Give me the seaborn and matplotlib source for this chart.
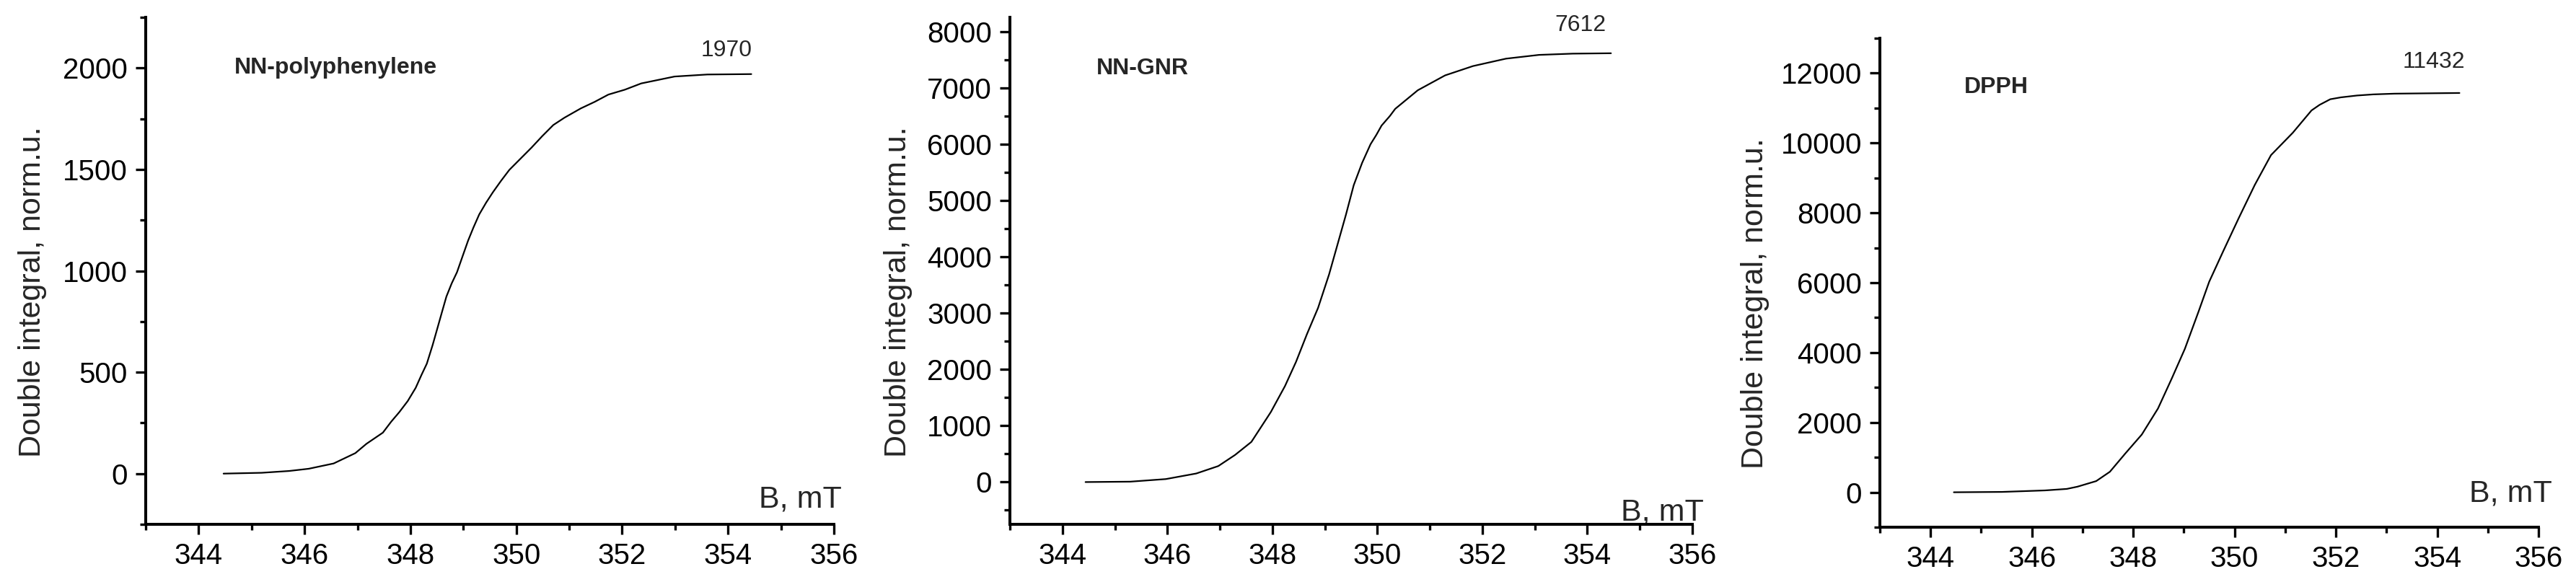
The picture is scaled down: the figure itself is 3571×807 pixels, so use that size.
import matplotlib
matplotlib.use("Agg")
import matplotlib.pyplot as plt
from matplotlib.ticker import MultipleLocator
import seaborn as sns
import pandas as pd

# ---- data ----
b_poly = [344.47, 345.19, 345.71, 346.08, 346.55, 346.96, 347.17, 347.48, 347.64, 347.79,
          347.95, 348.10, 348.21, 348.31, 348.42, 348.52, 348.60, 348.68, 348.78, 348.88,
          348.99, 349.09, 349.19, 349.30, 349.43, 349.56, 349.71, 349.87, 350.08, 350.29,
          350.49, 350.70, 350.91, 351.22, 351.48, 351.74, 352.05, 352.36, 352.99, 353.61,
          354.44]
v_poly = [0, 4, 13, 24, 50, 101, 147, 202, 257, 303,
          358, 423, 487, 542, 634, 726, 800, 873, 938, 993,
          1075, 1149, 1213, 1278, 1336, 1388, 1443, 1498, 1553, 1608,
          1664, 1719, 1755, 1801, 1833, 1869, 1893, 1924, 1958, 1968,
          1970]

b_gnr = [344.44, 345.29, 345.97, 346.55, 346.97, 347.29, 347.60, 347.97, 348.24, 348.45,
         348.66, 348.87, 349.08, 349.24, 349.40, 349.55, 349.71, 349.87, 349.98, 350.08,
         350.24, 350.34, 350.77, 351.29, 351.82, 352.45, 353.08, 353.72, 354.45]
v_gnr = [0, 7, 53, 152, 284, 482, 713, 1242, 1704, 2133,
         2629, 3091, 3686, 4214, 4742, 5271, 5667, 5997, 6162, 6328,
         6500, 6625, 6955, 7219, 7384, 7516, 7583, 7605, 7612]

b_dpph = [344.46, 345.41, 346.26, 346.69, 346.90, 347.27, 347.54, 347.85, 348.17, 348.49,
          348.76, 349.02, 349.29, 349.50, 349.77, 350.08, 350.40, 350.72, 351.15, 351.52,
          351.68, 351.89, 352.10, 352.42, 352.74, 353.16, 354.44]
v_dpph = [0, 10, 53, 96, 160, 320, 587, 1120, 1653, 2400,
          3253, 4107, 5173, 6027, 6880, 7840, 8800, 9653, 10293, 10933,
          11093, 11253, 11307, 11360, 11392, 11413, 11432]

names = ["NN-polyphenylene", "NN-GNR", "DPPH"]
final_labels = ["1970", "7612", "11432"]
x_label = "B, mT"
y_label = "Double integral, norm.u."

sns.set_style("ticks")
plt.rcParams['font.family'] = ['Liberation Sans', 'DejaVu Sans']

fig = plt.figure(figsize=(35.71, 8.07), dpi=100)

W, H = 3571, 807
boxes = [(202, 1156, 24, 727), (1400, 2346, 24, 727), (2606, 3519, 53, 731)]
ylims = [(-250, 2250), (-750, 8250), (-1000, 13000)]
ymaj = [500, 1000, 2000]
ymin = [250, 500, 1000]
datasets = [(b_poly, v_poly), (b_gnr, v_gnr), (b_dpph, v_dpph)]
name_pos = [(344.68, 2000), (344.65, 7338), (344.67, 11595)]
num_pos = [(353.97, 2086), (353.87, 8111), (353.93, 12320)]
xlab_pos = [(1.0115, 0.033), (1.017, 0.0085), (1.021, 0.052)]
ylab_x = [-0.1645, -0.164, -0.189]

for i in range(3):
    l, r, t, b = boxes[i]
    ax = fig.add_axes([l / W, (H - b) / H, (r - l) / W, (b - t) / H])
    bx, vy = datasets[i]
    df = pd.DataFrame({"B": bx, "V": vy})
    sns.lineplot(data=df, x="B", y="V", ax=ax, color="black", linewidth=1.6)
    ax.set_xlim(343, 356)
    ax.set_ylim(*ylims[i])
    ax.xaxis.set_major_locator(MultipleLocator(2))
    ax.xaxis.set_minor_locator(MultipleLocator(1))
    ax.yaxis.set_major_locator(MultipleLocator(ymaj[i]))
    ax.yaxis.set_minor_locator(MultipleLocator(ymin[i]))
    for side in ["top", "right"]:
        ax.spines[side].set_visible(False)
    for side in ["left", "bottom"]:
        ax.spines[side].set_linewidth(2.9)
        ax.spines[side].set_color("black")
    ax.tick_params(which="major", direction="out", length=10, width=2.4,
                   labelsize=29, pad=8, colors="black")
    ax.tick_params(which="minor", direction="out", length=5.5, width=2.4, colors="black")
    ax.set_xlabel(x_label, fontsize=31)
    ax.xaxis.set_label_coords(*xlab_pos[i])
    ax.xaxis.label.set_ha("right")
    ax.xaxis.label.set_va("baseline")
    ax.set_ylabel(y_label, fontsize=31)
    ax.yaxis.set_label_coords(ylab_x[i], 0.458)
    ax.yaxis.label.set_va("center")
    ax.text(name_pos[i][0], name_pos[i][1], names[i], fontsize=23, fontweight="bold",
            ha="left", va="center")
    ax.text(num_pos[i][0], num_pos[i][1], final_labels[i], fontsize=23,
            ha="center", va="center")
    ax.set_facecolor("white")

fig.savefig("out.png", dpi=100, facecolor="white")
